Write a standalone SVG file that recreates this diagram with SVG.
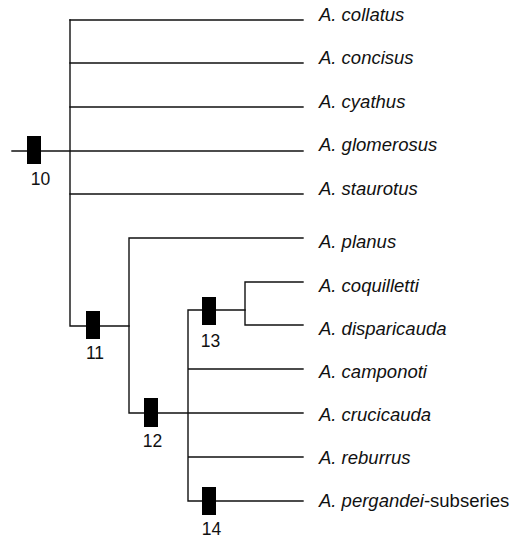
<svg xmlns="http://www.w3.org/2000/svg" width="530" height="541" viewBox="0 0 530 541">
<style>
.e{stroke:#111;stroke-width:1.4;fill:none;stroke-linecap:square}
.m{fill:#000}
.t{font-family:"Liberation Sans",Arial,sans-serif;font-size:18.5px;font-style:italic;fill:#111}
.n{font-family:"Liberation Sans",Arial,sans-serif;font-size:17.5px;fill:#111;text-anchor:middle}
.r{font-style:normal}
</style>
<rect width="530" height="541" fill="#fff"/>
<g id="connectors" class="e">
<path d="M12 151H303"/>
<path d="M70 20V326H129"/>
<path d="M70 20H303M70 63H303M70 107H303M70 194H303"/>
<path d="M129 238V413H303M129 238H303"/>
<path d="M188 310V501H303M188 310H245M188 369H303M188 457H303"/>
<path d="M245 282V325H303M245 282H303"/>
</g>
<g id="node10"><rect class="m" x="27" y="136" width="14" height="28"/><text class="n" x="40.5" y="185">10</text></g>
<g id="node11"><rect class="m" x="86" y="311" width="14" height="28"/><text class="n" x="95" y="359">11</text></g>
<g id="node12"><rect class="m" x="144" y="398" width="14" height="29"/><text class="n" x="152.5" y="447">12</text></g>
<g id="node13"><rect class="m" x="202" y="297" width="14" height="28"/><text class="n" x="210.5" y="347">13</text></g>
<g id="node14"><rect class="m" x="202" y="487" width="14" height="28"/><text class="n" x="211.5" y="535">14</text></g>
<g id="taxa">
<text id="t-collatus" class="t" x="319" y="21">A. collatus</text>
<text id="t-concisus" class="t" x="319" y="64">A. concisus</text>
<text id="t-cyathus" class="t" x="319" y="107.5">A. cyathus</text>
<text id="t-glomerosus" class="t" x="319" y="151">A. glomerosus</text>
<text id="t-staurotus" class="t" x="319" y="194.5">A. staurotus</text>
<text id="t-planus" class="t" x="319" y="248">A. planus</text>
<text id="t-coquilletti" class="t" x="319" y="291.5">A. coquilletti</text>
<text id="t-disparicauda" class="t" x="319" y="334.5">A. disparicauda</text>
<text id="t-camponoti" class="t" x="319" y="378">A. camponoti</text>
<text id="t-crucicauda" class="t" x="319" y="420.5">A. crucicauda</text>
<text id="t-reburrus" class="t" x="319" y="463.5">A. reburrus</text>
<text id="t-pergandei" class="t" x="319" y="506.5">A. pergandei<tspan class="r">-subseries</tspan></text>
</g>
</svg>
